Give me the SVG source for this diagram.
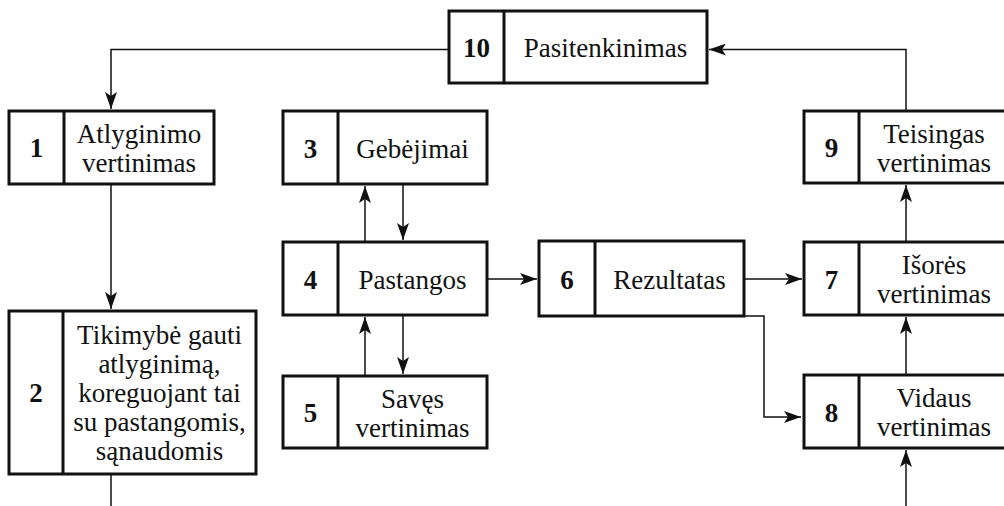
<svg xmlns="http://www.w3.org/2000/svg" width="1004" height="506" viewBox="0 0 1004 506">
<style>
.box{fill:#fff;stroke:#111;stroke-width:3}
.div{stroke:#111;stroke-width:3}
text{font-family:'Liberation Serif','DejaVu Serif',serif;font-size:27px;fill:#111;text-anchor:middle}
.n{font-weight:bold}
.c{fill:none;stroke:#111;stroke-width:1.5}
</style>
<defs>
<marker id="ah" markerUnits="userSpaceOnUse" markerWidth="18" markerHeight="12" viewBox="0 0 18 12" refX="17" refY="6" orient="auto">
<path d="M0,0 L17,6 L0,12 L4,6 Z" fill="#111"/>
</marker>
</defs>
<g id="connectors">
<path class="c" d="M449,49.5 H111 V109" marker-end="url(#ah)"/>
<path class="c" d="M111,184 V309" marker-end="url(#ah)"/>
<path class="c" d="M111,474 V506"/>
<path class="c" d="M365,242 V186" marker-end="url(#ah)"/>
<path class="c" d="M403,184 V240" marker-end="url(#ah)"/>
<path class="c" d="M403,315 V374" marker-end="url(#ah)"/>
<path class="c" d="M365,376 V317" marker-end="url(#ah)"/>
<path class="c" d="M487,279 H537" marker-end="url(#ah)"/>
<path class="c" d="M744,279 H802" marker-end="url(#ah)"/>
<path class="c" d="M744,316 H764 V417 H801" marker-end="url(#ah)"/>
<path class="c" d="M906,242 V185" marker-end="url(#ah)"/>
<path class="c" d="M906,375 V317" marker-end="url(#ah)"/>
<path class="c" d="M906,506 V450" marker-end="url(#ah)"/>
<path class="c" d="M906,111 V49.5 H709" marker-end="url(#ah)"/>
</g>
<g id="node10">
<rect class="box" x="449" y="11" width="258" height="72"/>
<line class="div" x1="504" y1="11" x2="504" y2="83"/>
<text class="n" x="476.5" y="57">10</text>
<text x="605.5" y="57">Pasitenkinimas</text>
</g>
<g id="node1">
<rect class="box" x="9" y="111" width="205" height="73"/>
<line class="div" x1="64" y1="111" x2="64" y2="184"/>
<text class="n" x="36.5" y="157">1</text>
<text x="139" y="143">Atlyginimo</text>
<text x="139" y="172">vertinimas</text>
</g>
<g id="node2">
<rect class="box" x="9" y="311" width="247" height="163"/>
<line class="div" x1="63" y1="311" x2="63" y2="474"/>
<text class="n" x="36" y="402">2</text>
<text x="159.5" y="344">Tikimybė gauti</text>
<text x="159.5" y="373">atlyginimą,</text>
<text x="159.5" y="402">koreguojant tai</text>
<text x="159.5" y="431">su pastangomis,</text>
<text x="159.5" y="460">sąnaudomis</text>
</g>
<g id="node3">
<rect class="box" x="283" y="111" width="204" height="73"/>
<line class="div" x1="338" y1="111" x2="338" y2="184"/>
<text class="n" x="310.5" y="157.5">3</text>
<text x="412.5" y="157.5">Gebėjimai</text>
</g>
<g id="node4">
<rect class="box" x="283" y="242" width="204" height="73"/>
<line class="div" x1="338" y1="242" x2="338" y2="315"/>
<text class="n" x="310.5" y="288.5">4</text>
<text x="412.5" y="288.5">Pastangos</text>
</g>
<g id="node5">
<rect class="box" x="283" y="376" width="204" height="72"/>
<line class="div" x1="338" y1="376" x2="338" y2="448"/>
<text class="n" x="310.5" y="422">5</text>
<text x="412.5" y="407.5">Savęs</text>
<text x="412.5" y="436.5">vertinimas</text>
</g>
<g id="node6">
<rect class="box" x="539" y="241" width="205" height="75"/>
<line class="div" x1="595" y1="241" x2="595" y2="316"/>
<text class="n" x="567" y="288.5">6</text>
<text x="669.5" y="288.5">Rezultatas</text>
</g>
<g id="node9">
<rect class="box" x="804" y="111" width="206" height="72"/>
<line class="div" x1="859" y1="111" x2="859" y2="183"/>
<text class="n" x="831.5" y="157">9</text>
<text x="934" y="142.5">Teisingas</text>
<text x="934" y="171.5">vertinimas</text>
</g>
<g id="node7">
<rect class="box" x="804" y="242" width="206" height="73"/>
<line class="div" x1="859" y1="242" x2="859" y2="315"/>
<text class="n" x="831.5" y="288.5">7</text>
<text x="934" y="274">Išorės</text>
<text x="934" y="303">vertinimas</text>
</g>
<g id="node8">
<rect class="box" x="804" y="375" width="206" height="73"/>
<line class="div" x1="859" y1="375" x2="859" y2="448"/>
<text class="n" x="831.5" y="421.5">8</text>
<text x="934" y="407">Vidaus</text>
<text x="934" y="436">vertinimas</text>
</g>
</svg>
